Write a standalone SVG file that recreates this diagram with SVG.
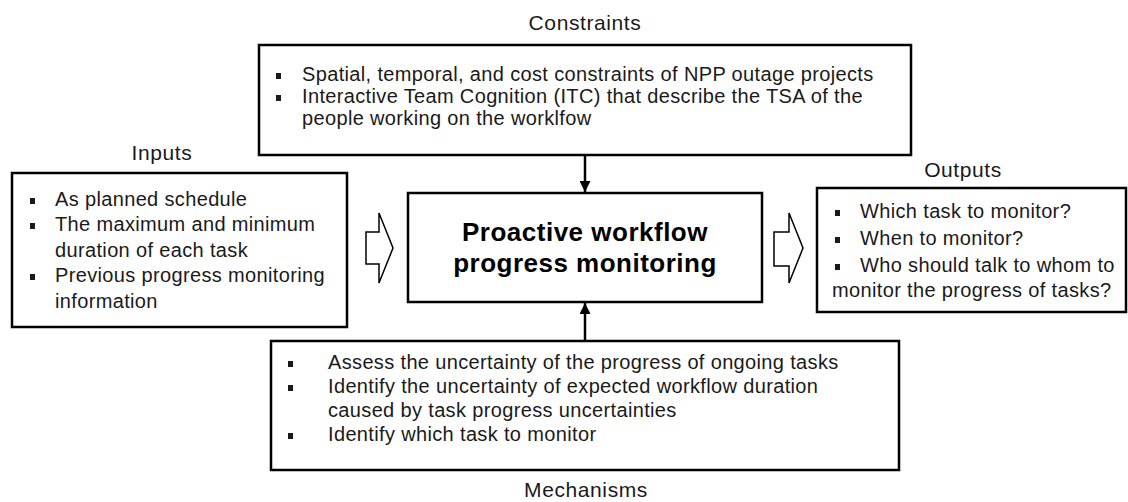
<svg xmlns="http://www.w3.org/2000/svg" width="1128" height="502" viewBox="0 0 1128 502">
  <style>
    .box { fill: #ffffff; stroke: #000000; stroke-width: 2.5; }
    .txt { font-family: "Liberation Sans", Arial, sans-serif; font-size: 20px; letter-spacing: 0.35px; fill: #1a1a1a; }
    .lbl { font-family: "Liberation Sans", Arial, sans-serif; font-size: 21px; letter-spacing: 0.6px; fill: #1a1a1a; text-anchor: middle; }
    .main { font-family: "Liberation Sans", Arial, sans-serif; font-size: 26px; letter-spacing: 0.5px; font-weight: bold; fill: #000; text-anchor: middle; }
    .bul { fill: #1a1a1a; }
    .wire { stroke: #000; stroke-width: 2.5; fill: none; }
    .hollow { fill: #ffffff; stroke: #000; stroke-width: 1.5; stroke-linejoin: miter; }
  </style>
  <defs>
    <marker id="head" viewBox="0 0 10 10" refX="10" refY="5" markerWidth="4.4" markerHeight="4.4" orient="auto" markerUnits="strokeWidth">
      <path d="M0,0 L10,5 L0,10 z" fill="#000"/>
    </marker>
  </defs>

  <rect width="1128" height="502" fill="#ffffff"/>

  <!-- Constraints -->
  <g id="constraints">
    <text class="lbl" x="585" y="30">Constraints</text>
    <rect class="box" x="259" y="45" width="652" height="110"/>
    <rect class="bul" x="276" y="73" width="5" height="6"/>
    <text class="txt" x="302" y="81">Spatial, temporal, and cost constraints of NPP outage projects</text>
    <rect class="bul" x="276" y="95" width="5" height="6"/>
    <text class="txt" x="302" y="103">Interactive Team Cognition (ITC) that describe the TSA of the</text>
    <text class="txt" x="302" y="125">people working on the worklfow</text>
  </g>

  <!-- Inputs -->
  <g id="inputs">
    <text class="lbl" x="162" y="160">Inputs</text>
    <rect class="box" x="12" y="173" width="335" height="154"/>
    <rect class="bul" x="30" y="198" width="5" height="6"/>
    <text class="txt" x="55" y="206">As planned schedule</text>
    <rect class="bul" x="30" y="223" width="5" height="6"/>
    <text class="txt" x="55" y="231">The maximum and minimum</text>
    <text class="txt" x="55" y="257">duration of each task</text>
    <rect class="bul" x="30" y="274" width="5" height="6"/>
    <text class="txt" x="55" y="282">Previous progress monitoring</text>
    <text class="txt" x="55" y="308">information</text>
  </g>

  <!-- Core activity -->
  <g id="activity">
    <rect class="box" x="408" y="193" width="354" height="109"/>
    <text class="main" x="585" y="241">Proactive workflow</text>
    <text class="main" x="585" y="272">progress monitoring</text>
  </g>

  <!-- Outputs -->
  <g id="outputs">
    <text class="lbl" x="963" y="177">Outputs</text>
    <rect class="box" x="817" y="188" width="309" height="124"/>
    <rect class="bul" x="835" y="210" width="5" height="6"/>
    <text class="txt" x="860" y="218">Which task to monitor?</text>
    <rect class="bul" x="835" y="237" width="5" height="6"/>
    <text class="txt" x="860" y="245">When to monitor?</text>
    <rect class="bul" x="835" y="264" width="5" height="6"/>
    <text class="txt" x="860" y="272">Who should talk to whom to</text>
    <text class="txt" x="832" y="297">monitor the progress of tasks?</text>
  </g>

  <!-- Mechanisms -->
  <g id="mechanisms">
    <rect class="box" x="271" y="341" width="628" height="129"/>
    <rect class="bul" x="288" y="361" width="5" height="6"/>
    <text class="txt" x="328" y="369">Assess the uncertainty of the progress of ongoing tasks</text>
    <rect class="bul" x="288" y="385" width="5" height="6"/>
    <text class="txt" x="328" y="393">Identify the uncertainty of expected workflow duration</text>
    <text class="txt" x="328" y="417">caused by task progress uncertainties</text>
    <rect class="bul" x="288" y="433" width="5" height="6"/>
    <text class="txt" x="328" y="441">Identify which task to monitor</text>
    <text class="lbl" x="586" y="497">Mechanisms</text>
  </g>

  <!-- Connectors -->
  <g id="connectors">
    <line class="wire" x1="585" y1="155" x2="585" y2="192" marker-end="url(#head)"/>
    <line class="wire" x1="585" y1="341" x2="585" y2="303" marker-end="url(#head)"/>
    <path class="hollow" d="M366,232 L379,232 L379,213 L393,248 L379,283 L379,264 L366,264 Z"/>
    <path class="hollow" d="M774,232 L789,232 L789,213 L803,248 L789,283 L789,266 L774,266 Z"/>
  </g>
</svg>
